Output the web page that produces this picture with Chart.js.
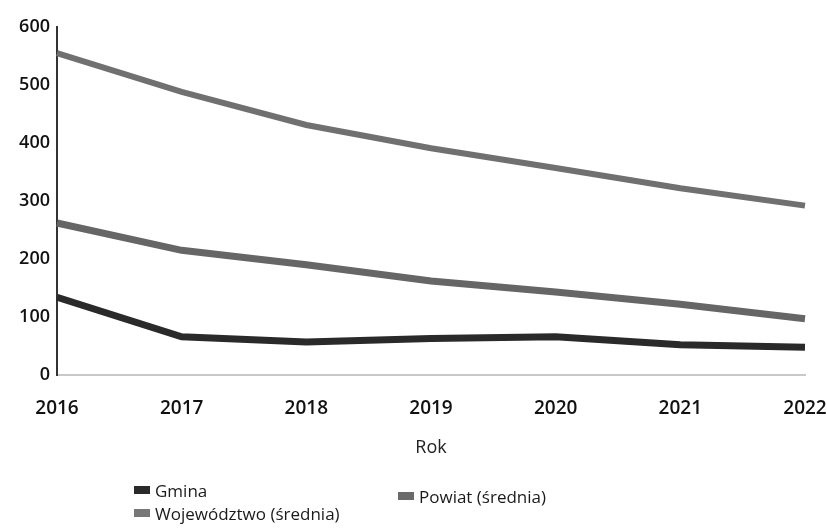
<!DOCTYPE html>
<html>
<head>
<meta charset="utf-8">
<script src="https://cdn.jsdelivr.net/npm/chart.js@4"></script>
<style>
  body { margin: 0; background: #fff; }
  #wrap { position: relative; width: 827px; height: 530px; }
  .leg { position: absolute; font: 500 17px "Open Sans", sans-serif; color: #1a1a1a; white-space: nowrap; }
  .leg span { display: inline-block; width: 16px; height: 8px; margin-right: 5px; vertical-align: 3px; }
</style>
</head>
<body>
<div id="wrap">
  <canvas id="chart" width="827" height="530"></canvas>
  <div class="leg" style="left:134px; top:479px;"><span style="background:#2a2a2a"></span>Gmina</div>
  <div class="leg" style="left:398px; top:485px;"><span style="background:#6a6a6a"></span>Powiat (średnia)</div>
  <div class="leg" style="left:134px; top:502px;"><span style="background:#777"></span>Województwo (średnia)</div>
</div>
<script>
// dane
const years = ["2016", "2017", "2018", "2019", "2020", "2021", "2022"];
const gmina = [134, 66, 57, 63, 66, 52, 48];
const powiat = [262, 215, 190, 162, 143, 122, 97];
const wojewodztwo = [555, 488, 431, 391, 357, 322, 292];
const yTicks = [0, 100, 200, 300, 400, 500, 600];

const family = "'Open Sans', sans-serif";

new Chart(document.getElementById("chart"), {
  type: "line",
  data: {
    labels: years,
    datasets: [
      { label: "Gmina", data: gmina, borderColor: "#2a2a2a", borderWidth: 7 },
      { label: "Powiat (średnia)", data: powiat, borderColor: "#666", borderWidth: 7 },
      { label: "Województwo (średnia)", data: wojewodztwo, borderColor: "#707070", borderWidth: 6 },
    ],
  },
  options: {
    responsive: false,
    animation: false,
    elements: { point: { radius: 0 }, line: { tension: 0 } },
    layout: { padding: { top: 27, right: 22, bottom: 67, left: 0 } },
    plugins: { legend: { display: false }, tooltip: { enabled: false } },
    scales: {
      x: {
        grid: { display: false, drawTicks: false },
        border: { display: true, color: "#c8c8c8", width: 2 },
        ticks: { font: { family, size: 19, weight: "600" }, color: "#111", padding: 22, maxRotation: 0 },
        title: { display: true, text: "Rok", font: { family, size: 18, weight: "500" }, color: "#222", padding: 4 },
        afterFit: (s) => { s.height = 88; s.paddingLeft = 0; s.paddingRight = 0; },
      },
      y: {
        min: 0,
        max: 600,
        afterBuildTicks: (s) => { s.ticks = yTicks.map((v) => ({ value: v })); },
        grid: { display: false, drawTicks: false },
        border: { display: true, color: "#333", width: 2 },
        ticks: { font: { family, size: 18, weight: "600" }, color: "#111", padding: 7 },
        afterFit: (s) => { s.width = 57; },
      },
    },
  },
});
</script>
</body>
</html>
